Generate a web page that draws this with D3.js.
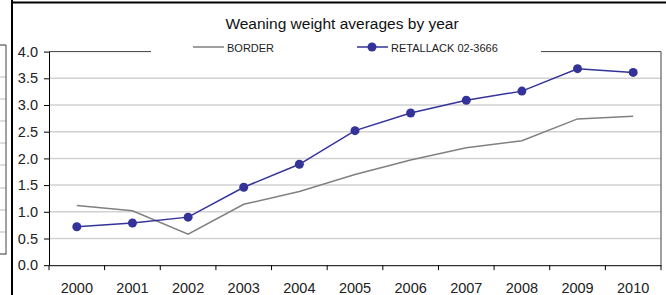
<!DOCTYPE html>
<html>
<head>
<meta charset="utf-8">
<script src="https://cdn.jsdelivr.net/npm/d3@7"></script>
<style>
  html, body { margin: 0; padding: 0; background: #fff; }
  svg { display: block; }
  .tick text { font-family: "Liberation Sans Narrow", "Liberation Sans", sans-serif; fill: #222; }
  .title { font-family: "Liberation Sans", Arial, sans-serif; font-size: 15.5px; fill: #111; }
  .legend text { font-family: "Liberation Sans", Arial, sans-serif; font-size: 11px; fill: #222; }
</style>
</head>
<body>
<div id="chart"></div>
<script>
(function () {'use strict';

// Data
var years    = ['2000', '2001', '2002', '2003', '2004', '2005', '2006', '2007', '2008', '2009', '2010'];
var border   = [1.12, 1.02, 0.58, 1.14, 1.38, 1.70, 1.97, 2.20, 2.33, 2.74, 2.79];
var retallack = [0.72, 0.79, 0.90, 1.46, 1.89, 2.52, 2.85, 3.09, 3.26, 3.68, 3.61];
var yTicks   = [0, 0.5, 1, 1.5, 2, 2.5, 3, 3.5, 4];
var seriesNames = ['BORDER', 'RETALLACK 02-3666'];

var width  = 666,
    height = 295,
    plot   = { left: 49, right: 661, top: 51.6, bottom: 265.2 },
    blue   = '#333399',
    grey   = '#808080';

var svg = d3.select('#chart')
    .append('svg')
        .attr('width', width)
        .attr('height', height);

var x = d3.scaleBand().domain(years).range([plot.left, plot.right]).padding(0),
    y = d3.scaleLinear().domain([0, 4]).range([plot.bottom, plot.top]);

/*
 * LEFT TABLE FRAGMENT + FRAME
 */
var tableRows = [45, 77, 99, 121, 143, 165, 188, 210, 232, 254];
svg.selectAll('line.trow')
    .data(tableRows)
    .enter().append('line')
        .attr('class', 'trow')
        .attr('x1', 0).attr('x2', 6)
        .attr('y1', function (d) { return d; })
        .attr('y2', function (d) { return d; })
        .attr('stroke', function (d, i) { return (i === 0 || i === tableRows.length - 1) ? '#333' : '#bbb'; })
        .attr('stroke-width', 1);
svg.append('line')
    .attr('x1', 6).attr('x2', 6).attr('y1', 45).attr('y2', 254.5)
    .attr('stroke', '#444').attr('stroke-width', 1);

svg.append('line')
    .attr('x1', 12).attr('x2', 12).attr('y1', 0).attr('y2', height)
    .attr('stroke', '#000').attr('stroke-width', 2);
svg.append('line')
    .attr('x1', 11).attr('x2', width).attr('y1', 2.5).attr('y2', 2.5)
    .attr('stroke', '#000').attr('stroke-width', 2);

/*
 * GRID + PLOT BORDER
 */
svg.append('g')
    .selectAll('line')
    .data(yTicks.filter(function (d) { return d > 0 && d < 4; }))
    .enter().append('line')
        .attr('x1', plot.left).attr('x2', plot.right)
        .attr('y1', function (d) { return y(d); })
        .attr('y2', function (d) { return y(d); })
        .attr('stroke', '#d2d2d2')
        .attr('stroke-width', 1.5);

svg.append('path')
    .attr('d', 'M' + plot.left + ',' + y(4) + 'H' + plot.right + 'V' + y(0))
    .attr('fill', 'none')
    .attr('stroke', '#404040')
    .attr('stroke-width', 1);

/*
 * AXES
 */
var yAxis = svg.append('g')
    .attr('transform', 'translate(' + plot.left + ',0)')
    .call(d3.axisLeft(y).tickValues(yTicks).tickFormat(d3.format('.1f')).tickSize(5).tickPadding(6).tickSizeOuter(0));
yAxis.selectAll('text').style('font-size', '14.5px');
yAxis.select('.domain').attr('stroke', '#000');

var xAxis = svg.append('g')
    .attr('transform', 'translate(0,' + plot.bottom + ')')
    .call(d3.axisBottom(x).tickSize(0).tickPadding(18).tickSizeOuter(0));
xAxis.selectAll('text').style('font-size', '14.5px');
xAxis.select('.domain').attr('stroke', '#000');

// tick marks sit on the category boundaries
var bounds = years.map(function (d) { return x(d); }).concat([plot.right]);
svg.append('g')
    .selectAll('line')
    .data(bounds)
    .enter().append('line')
        .attr('x1', function (d) { return d; })
        .attr('x2', function (d) { return d; })
        .attr('y1', plot.bottom)
        .attr('y2', plot.bottom + 5)
        .attr('stroke', '#000');

/*
 * SERIES
 */
var cx = function (d, i) { return x(years[i]) + x.bandwidth() / 2; };
var line = d3.line()
    .x(cx)
    .y(function (d) { return y(d); });

svg.append('path')
    .datum(border)
    .attr('d', line)
    .attr('fill', 'none')
    .attr('stroke', grey)
    .attr('stroke-width', 1.5);

svg.append('path')
    .datum(retallack)
    .attr('d', line)
    .attr('fill', 'none')
    .attr('stroke', blue)
    .attr('stroke-width', 1.5);

svg.append('g')
    .selectAll('circle')
    .data(retallack)
    .enter().append('circle')
        .attr('cx', cx)
        .attr('cy', function (d) { return y(d); })
        .attr('r', 4.5)
        .attr('fill', blue);

/*
 * TITLE + LEGEND
 */
svg.append('text')
    .attr('class', 'title')
    .attr('x', 342)
    .attr('y', 29)
    .attr('text-anchor', 'middle')
    .text('Weaning weight averages by year');

var legend = svg.append('g').attr('class', 'legend');
legend.append('rect')
    .attr('x', 151).attr('y', 37).attr('width', 390).attr('height', 20)
    .attr('fill', '#fff');

legend.append('line')
    .attr('x1', 193).attr('x2', 224).attr('y1', 47).attr('y2', 47)
    .attr('stroke', grey).attr('stroke-width', 1.5);
legend.append('text')
    .attr('x', 227).attr('y', 51.5)
    .text(seriesNames[0]);

legend.append('line')
    .attr('x1', 357).attr('x2', 388).attr('y1', 47).attr('y2', 47)
    .attr('stroke', blue).attr('stroke-width', 1.5);
legend.append('circle')
    .attr('cx', 372).attr('cy', 47).attr('r', 4.5)
    .attr('fill', blue);
legend.append('text')
    .attr('x', 391).attr('y', 51.5)
    .text(seriesNames[1]);

})();
</script>
</body>
</html>
